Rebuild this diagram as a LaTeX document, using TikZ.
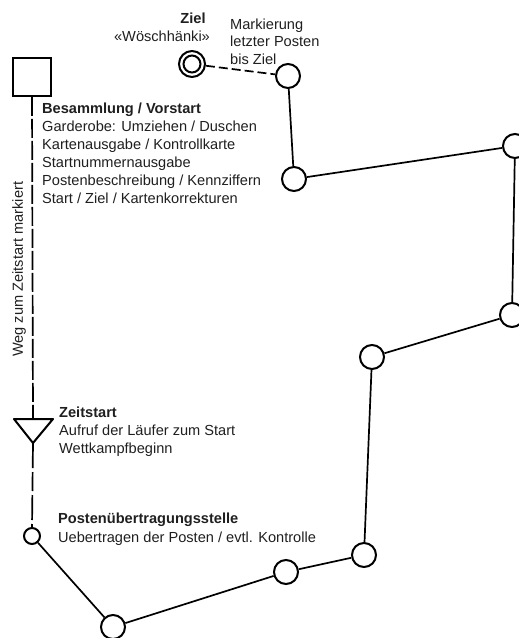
\documentclass[tikz,border=0pt]{standalone}
\usepackage{fontspec}
\setmainfont{Liberation Sans}
\begin{document}
\begin{tikzpicture}[x=1pt,y=-1pt,
  post/.style={circle,draw,line width=2pt,minimum size=24pt,inner sep=0pt},
  leg/.style={line width=1.7pt},
  txt/.style={font=\fontsize{14.6}{18}\selectfont,inner sep=0pt,anchor=base west,text=black!88},
  btxt/.style={txt,font=\fontsize{14.6}{18}\selectfont\bfseries}]
\useasboundingbox (0,0) rectangle (519,638);
% symbols
\node[draw,line width=1.8pt,minimum size=38pt,inner sep=0pt] (sq) at (32,77) {};
\coordinate (tritop) at (33,419);
\coordinate (triapex) at (33,443);
\draw[line width=2pt,line join=round] (14,419) -- (53,419) -- (triapex) -- cycle;
\node[post,minimum size=16pt] (s0) at (32,536) {};
\node[post,minimum size=26pt,line width=2pt] (ziel) at (192,64) {};
\node[post,minimum size=17pt,line width=2pt] (zielin) at (192,64) {};
\node[post] (p1) at (288,76) {};
\node[post] (p2) at (294,179) {};
\node[post] (p3) at (515,146) {};
\node[post] (p4) at (512,315) {};
\node[post] (p5) at (372,357) {};
\node[post] (p6) at (364,555) {};
\node[post] (p7) at (286,572) {};
\node[post] (p8) at (113,627) {};
% connectors
\draw[leg,dash pattern=on 19pt off 3pt] (sq.south) -- (tritop);
\draw[leg,dash pattern=on 25pt off 4pt on 19pt off 4pt] (triapex) -- (s0.north);
\draw[leg,dash pattern=on 9pt off 4pt] (ziel) -- (p1);
\draw[leg] (p1) -- (p2);
\draw[leg] (p2) -- (p3);
\draw[leg] (p3) -- (p4);
\draw[leg] (p4) -- (p5);
\draw[leg] (p5) -- (p6);
\draw[leg] (p6) -- (p7);
\draw[leg] (p7) -- (p8);
\draw[leg] (p8) -- (s0);
% texts
\node[btxt,anchor=base] (tziel) at (193,23) {Ziel};
\node[txt,anchor=base] (twosch) at (162,41.5) {«Wöschhänki»};
\node[txt] (tmark1) at (230,29) {Markierung};
\node[txt] (tmark2) at (230,46.5) {letzter Posten};
\node[txt] (tmark3) at (230,64) {bis Ziel};
\node[btxt] (tbes) at (42,113) {Besammlung / Vorstart};
\node[txt] (tbes1) at (42,131) {Garderobe: Umziehen / Duschen};
\node[txt] (tbes2) at (42,149) {Kartenausgabe / Kontrollkarte};
\node[txt] (tbes3) at (42,167) {Startnummernausgabe};
\node[txt] (tbes4) at (42,185) {Postenbeschreibung / Kennziffern};
\node[txt] (tbes5) at (42,203) {Start / Ziel / Kartenkorrekturen};
\node[btxt] (tzeit) at (59,417) {Zeitstart};
\node[txt] (tzeit1) at (59,435) {Aufruf der Läufer zum Start};
\node[txt] (tzeit2) at (59,453) {Wettkampfbeginn};
\node[btxt] (tpost) at (58,523) {Postenübertragungsstelle};
\node[txt] (tpost1) at (58,542) {Uebertragen der Posten / evtl. Kontrolle};
\node[txt,rotate=90] (tweg) at (23,357) {Weg zum Zeitstart markiert};
\end{tikzpicture}
\end{document}
